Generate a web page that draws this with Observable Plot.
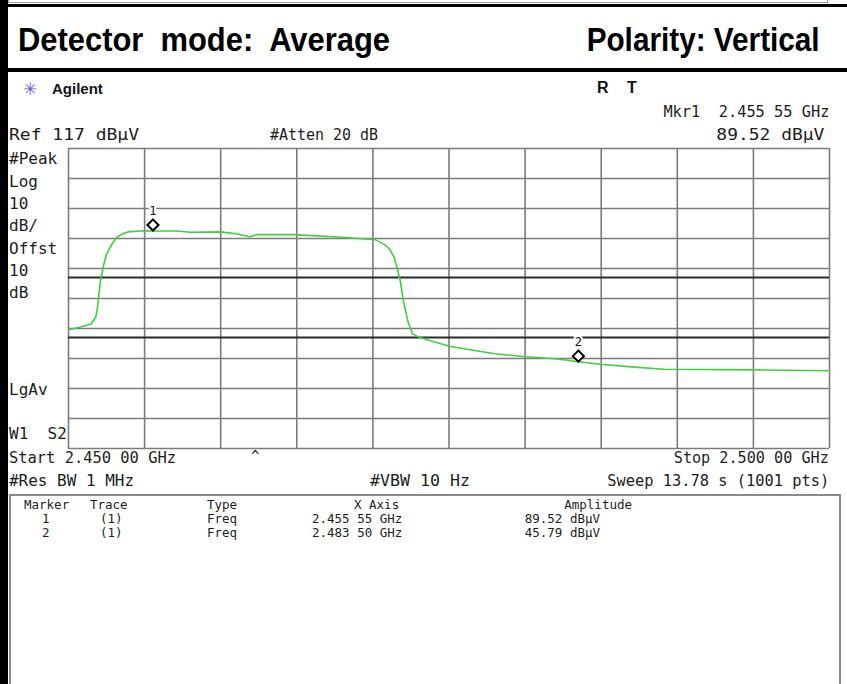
<!DOCTYPE html>
<html><head><meta charset="utf-8">
<script src="https://cdn.jsdelivr.net/npm/d3@7"></script>
<script src="https://cdn.jsdelivr.net/npm/@observablehq/plot@0.6"></script>
<style>
html,body{margin:0;padding:0;background:#fff;}
#page{position:relative;width:847px;height:684px;overflow:hidden;background:#fff;}
.t{position:absolute;white-space:pre;line-height:1;font-family:"DejaVu Sans Mono",monospace;color:#1c1c1c;}
.b{position:absolute;}
#chart{position:absolute;left:0;top:140px;}
</style>
</head><body>
<div id="page"></div>
<script>
// ---- data ----
const freqGHz = [2.4500,2.4508,2.4515,2.4518,2.4519,2.4521,2.4523,2.4525,2.4529,2.4532,2.4536,2.4539,2.4550,2.4556,2.4571,2.4580,2.4600,2.4610,2.4619,2.4624,2.4648,2.4677,2.4690,2.4701,2.4707,2.4711,2.4714,2.4716,2.4718,2.4720,2.4723,2.4726,2.4730,2.4736,2.4751,2.4758,2.4780,2.4800,2.4820,2.4835,2.4851,2.4870,2.4891,2.4950,2.5000];
const levelDbuV = [56.6,57.5,58.5,61.0,63.9,72.9,78.0,81.9,85.5,87.5,88.7,89.2,89.6,89.5,89.5,89.1,89.2,88.6,87.6,88.3,88.3,87.5,87.0,86.7,85.2,83.5,80.7,77.0,72.9,66.2,59.4,55.2,54.2,53.2,51.0,50.4,48.6,47.6,46.9,45.9,45.0,44.2,43.4,43.2,42.9];
const markerIds = ["1","2"];
const markerFreqGHz = [2.45555,2.4835];
const markerLevel = [89.52,45.79];
const markerFreqText = ["2.455 55 GHz","2.483 50 GHz"];
const markerAmpText = ["89.52 dBµV","45.79 dBµV"];
const xGrid = [2.450,2.455,2.460,2.465,2.470,2.475,2.480,2.485,2.490,2.495,2.500];
const yGrid = [17,27,37,47,57,67,77,87,97,107,117];
const limitLines = [74,54];
const leftLabels = ["#Peak","Log","10","dB/","Offst","10","dB"];

const trace = freqGHz.map((f,i)=>({f, v: levelDbuV[i]}));
const markers = markerIds.map((id,i)=>({id, f: markerFreqGHz[i], v: markerLevel[i]}));

const page = document.getElementById("page");
function box(x,y,w,h,css){const d=document.createElement("div");d.className="b";Object.assign(d.style,{left:x+"px",top:y+"px",width:w+"px",height:h+"px"},css||{});page.appendChild(d);return d;}
function txt(s,x,base,fs,opts={}){
  const d=document.createElement("div");d.className="t";d.textContent=s;
  d.style.fontSize=fs+"px";
  if(opts.font) d.style.fontFamily=opts.font;
  if(opts.weight) d.style.fontWeight=opts.weight;
  if(opts.color) d.style.color=opts.color;
  d.style.top=(base-0.846*fs)+"px";
  page.appendChild(d);
  const w=d.getBoundingClientRect().width;
  let sx=1;
  if(opts.width){sx=opts.width/w;d.style.transformOrigin=opts.right?"right top":"left top";d.style.transform=`scaleX(${sx})`;}
  if(opts.right){d.style.left=(x-w)+"px";} else d.style.left=x+"px";
  return d;
}

// frame pieces
box(0,0,8,684,{background:"#000"});
box(8,-10,818,11,{border:"1px solid #9a9a9a"});
box(8,4,839,3,{background:"#000"});
box(8,68,839,4,{background:"#000"});

// title
const AR='"Liberation Sans",Arial,sans-serif';
txt("Detector  mode:  Average",18,51,33,{font:AR,weight:"bold",color:"#000",width:372});
txt("Polarity: Vertical",820,51,33,{font:AR,weight:"bold",color:"#000",right:true,width:233});

// analyzer header
txt("✳",23,95,17,{font:'"DejaVu Sans",sans-serif',color:"#5b5bd6"});
txt("Agilent",52,94,15,{font:AR,weight:"bold",color:"#111"});
txt("R",597,94,16,{font:AR,weight:"bold",color:"#111"});
txt("T",627,94,16,{font:AR,weight:"bold",color:"#111"});
const FS=16;
txt("Mkr1  2.455 55 GHz",829,118,FS,{right:true,width:166});
txt("Ref 117 dBµV",9,141,FS,{width:130});
txt("#Atten 20 dB",270,141,FS,{width:108});
txt(markerAmpText[0],824,141,FS,{right:true,width:108});
leftLabels.forEach((s,i)=>txt(s,9,165+i*22.3,FS));
txt("LgAv",9,396,FS);
txt("W1  S2",9,440,FS);
txt("Start 2.450 00 GHz",9,464,FS,{width:167});
txt("^",251,461,14);
txt("Stop 2.500 00 GHz",829,464,FS,{right:true,width:155});
txt("#Res BW 1 MHz",9,487,FS,{width:125});
txt("#VBW 10 Hz",370,487,FS,{width:100});
txt("Sweep 13.78 s (1001 pts)",829,487,FS,{right:true,width:222});

// marker table
box(9,494,828,200,{border:"2px solid #8a8a8a"});
const TF=12.5;
txt("Marker",24,510,TF);
txt("Trace",90,510,TF);
txt("Type",207,510,TF);
txt("X Axis",354,510,TF);
txt("Amplitude",632,510,TF,{right:true});
markerIds.forEach((id,i)=>{
  const b=524+i*14;
  txt(id,42,b,TF);
  txt("(1)",100,b,TF);
  txt("Freq",207,b,TF);
  txt(markerFreqText[i],312,b,TF);
  txt(markerAmpText[i],600,b,TF,{right:true});
});

// chart
const chart = Plot.plot({
  width: 847, height: 320,
  marginLeft: 68, marginRight: 18, marginTop: 8, marginBottom: 12,
  x: {domain: [2.45, 2.5], axis: null},
  y: {domain: [17, 117], axis: null},
  style: {background: "transparent", overflow: "visible"},
  marks: [
    Plot.ruleX(xGrid, {stroke: "#7c7c7c", strokeWidth: 1.6}),
    Plot.ruleY(yGrid, {stroke: "#7c7c7c", strokeWidth: 1.6}),
    Plot.ruleY(limitLines, {stroke: "#2a2a2a", strokeWidth: 2}),
    Plot.line(trace, {x: "f", y: "v", stroke: "#3fd03f", strokeWidth: 1.6}),
    Plot.text(markers, {x: "f", y: "v", text: "id", dy: -20, fontSize: 12, fill: "#111", stroke: "white", strokeWidth: 4, fontFamily: "DejaVu Sans Mono"}),
    Plot.dot(markers, {x: "f", y: "v", symbol: "diamond2", r: 5, stroke: "#000", strokeWidth: 2, fill: "white", dy: -6})
  ]
});
chart.id = "chart";
page.appendChild(chart);
</script>
</body></html>
